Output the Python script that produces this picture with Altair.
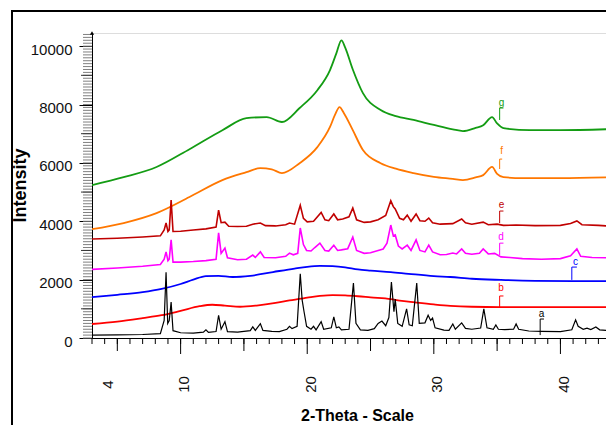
import altair as alt
import pandas as pd

W, H = 514, 305
X_DOMAIN = [3, 43.6]
Y_DOMAIN = [0, 10450]

# ---- series (2-Theta, Intensity) ----
a_t = [3.0, 5.0, 7.0, 8.4, 8.7, 8.85, 8.98, 9.1, 9.25, 9.4, 10.0, 11.0, 11.8, 12.0, 12.2, 12.8, 13.0, 13.2, 13.5, 13.7,
       14.5, 15.0, 15.5, 15.7, 15.9, 16.3, 16.5, 17.2, 17.8, 18.4, 18.6, 18.8, 19.2, 19.45, 19.6, 19.75, 19.95, 20.3,
       20.5, 20.7, 21.1, 21.3, 21.9, 22.1, 22.3, 22.5, 22.7, 23.3, 23.65, 23.85, 24.2, 24.8, 25.3, 25.6, 25.9, 26.2,
       26.45, 26.65, 26.85, 26.95, 27.15, 27.5, 27.85, 28.05, 28.3, 28.65, 28.85, 29.3, 29.55, 29.75, 29.9, 30.1, 30.8,
       31.2, 31.5, 31.7, 32.2, 32.5, 33.0, 33.7, 33.95, 34.2, 34.7, 34.9, 35.1, 35.6, 36.3, 36.5, 36.7, 37.5, 38.5,
       40.0, 40.9, 41.2, 41.4, 41.8, 42.1, 42.4, 42.8, 43.1, 44.2]
a_i = [100, 110, 120, 150, 600, 2250, 500, 600, 1230, 250, 180, 170, 200, 280, 190, 220, 780, 300, 560, 220,
       200, 230, 250, 380, 260, 490, 260, 230, 220, 300, 400, 320, 400, 2200, 1300, 900, 400, 300,
       400, 280, 560, 300, 350, 720, 350, 380, 280, 300, 1880, 500, 280, 260, 320, 500, 580, 420,
       700, 1920, 900, 1330, 500, 400, 1000, 450, 420, 1880, 500, 520, 780, 600, 680, 350, 270,
       260, 480, 300, 520, 330, 300, 340, 1000, 350, 300, 450, 300, 290, 300, 480, 300, 240, 230,
       220, 280, 620, 400, 300, 340, 290, 380, 280, 240]

b_t = [3, 5, 7, 8.5, 10, 11.5, 12.5, 13.5, 14.7, 16, 17.5, 18.6, 20, 21, 22, 23, 24, 25, 26.6, 27.3, 28.5, 30,
       31.3, 33, 35.3, 38, 41, 44.2]
b_i = [480, 560, 680, 780, 930, 1090, 1140, 1110, 1070, 1110, 1200, 1290, 1380, 1440, 1470, 1460, 1430, 1390, 1330,
       1280, 1220, 1150, 1100, 1070, 1060, 1060, 1060, 1060]

c_t = [3, 5, 7, 8.5, 10, 11, 12, 13, 14.1, 15.5, 17.3, 19, 20, 21, 22, 23, 24, 25, 26.6, 28, 30, 31.3, 33, 35.3,
       38, 41, 44.2]
c_i = [1400, 1480, 1570, 1680, 1850, 2000, 2120, 2130, 2090, 2130, 2260, 2380, 2440, 2470, 2460, 2420, 2350, 2310,
       2260, 2200, 2120, 2090, 2030, 1990, 1960, 1950, 1950]

d_t = [3, 5, 7, 8.4, 8.7, 8.85, 9.0, 9.1, 9.25, 9.4, 10.0, 11, 12.0, 12.8, 13.0, 13.2, 13.5, 13.7, 14.5, 15.2,
       15.7, 15.9, 16.3, 16.6, 17.5, 18.3, 18.6, 18.9, 19.25, 19.45, 19.7, 19.95, 20.3, 20.6, 21.0, 21.4, 21.7, 22.1,
       22.4, 22.7, 23.2, 23.6, 23.9, 24.5, 25.0, 25.6, 26.0, 26.3, 26.6, 26.8, 26.95, 27.2, 27.5, 27.9, 28.2, 28.6,
       28.9, 29.3, 29.6, 29.9, 30.5, 31.0, 31.5, 31.8, 32.2, 32.5, 33.0, 33.6, 33.9, 34.3, 34.8, 35.3, 36.0, 37,
       38.5, 40, 40.8, 41.3, 41.6, 42.5, 44.2]
d_i = [2350, 2400, 2460, 2520, 2700, 2950, 2650, 2700, 3360, 2600, 2600, 2620, 2650, 2700, 3600, 2900, 3080, 2750,
       2680, 2700, 2840, 2760, 2950, 2760, 2750, 2800, 2910, 2850, 2900, 3770, 3200, 3000, 2980, 3100, 3250, 3000,
       2980, 3180, 3000, 3020, 3060, 3460, 3000, 2900, 2920, 3000, 3050, 3250, 3870, 3500, 3530, 3150, 3050, 3180,
       3000, 3360, 3000, 2950, 3180, 2950, 2850, 2860, 2910, 2880, 3050, 2900, 2870, 2900, 3050, 2880, 2900, 2780,
       2760, 2720, 2700, 2720, 2820, 3050, 2800, 2760, 2740]

e_t = [3, 5, 7, 8.4, 8.7, 8.85, 9.0, 9.1, 9.25, 9.4, 10, 11, 12, 12.8, 13.0, 13.2, 13.5, 13.8, 14.5, 15.2, 15.7,
       16.3, 16.7, 17.5, 18.3, 18.6, 19.0, 19.45, 19.7, 20.0, 20.5, 21.1, 21.4, 21.7, 22.1, 22.4, 22.8, 23.3, 23.6,
       23.9, 24.5, 25.0, 25.6, 26.2, 26.6, 26.8, 26.95, 27.3, 27.6, 27.9, 28.2, 28.6, 28.9, 29.3, 29.6, 29.9, 30.5,
       31.5, 32.2, 32.5, 33.0, 33.9, 34.3, 35.0, 35.5, 36.5, 38, 40, 40.8, 41.3, 41.7, 43, 44.2]
e_i = [3390, 3420, 3460, 3500, 3700, 3940, 3650, 3700, 4730, 3650, 3660, 3700, 3740, 3800, 4380, 3950, 3970, 3830,
       3820, 3830, 3900, 3940, 3850, 3840, 3880, 3940, 3900, 4550, 4100, 3980, 4000, 4300, 4050, 4020, 4250, 4050,
       4080, 4150, 4450, 4050, 3960, 3980, 4050, 4200, 4700, 4500, 4420, 4100, 4050, 4210, 4000, 4250, 4020, 4000,
       4110, 3950, 3900, 3920, 4080, 3950, 3900, 3970, 3880, 3900, 3860, 3870, 3850, 3860, 3920, 4010, 3880, 3860,
       3820]

f_t = [3, 5.5, 8.1, 10.7, 13.3, 15.2, 16.3, 17.2, 18.0, 19.4, 20.8, 21.8, 22.2, 22.55, 22.9, 23.6, 24.4, 25.8, 27,
       28.4, 30, 31.5, 32.3, 33.3, 33.9, 34.6, 35.0, 35.5, 37, 40, 44.2]
f_i = [3730, 3940, 4280, 4830, 5410, 5680, 5820, 5780, 5650, 5990, 6540, 7230, 7650, 7910, 7700, 7120, 6440, 5990,
       5800, 5650, 5520, 5450, 5410, 5500, 5580, 5860, 5620, 5510, 5480, 5480, 5510]

g_t = [3, 5.5, 8.1, 10.7, 13.3, 15.2, 16.8, 18.0, 19.4, 20.8, 21.8, 22.3, 22.7, 23.0, 23.6, 24.4, 25.8, 27, 28.4,
       30, 31.5, 32.3, 33.3, 33.9, 34.6, 35.0, 35.5, 37.6, 40, 44.2]
g_i = [5240, 5510, 5860, 6470, 7120, 7530, 7570, 7400, 7880, 8490, 9180, 9750, 10200, 9950, 9200, 8390, 7810, 7600,
       7470, 7300, 7150, 7090, 7200, 7290, 7570, 7350, 7190, 7120, 7120, 7160]

names = ["a", "b", "c", "d", "e", "f", "g"]
colors = ["#000000", "#ff0000", "#0000ff", "#ff00ff", "#c00000", "#ff7700", "#139c13"]

# ---- curve labels and bracket markers ----
lab_name = ["g", "f", "e", "d", "c", "b", "a"]
lab_t = [35.35, 35.35, 35.35, 35.3, 41.2, 35.3, 38.5]
lab_i = [8050, 6400, 4550, 3460, 2600, 1710, 820]
brk_t = [35.2, 35.2, 35.2, 35.2, 40.9, 35.2, 38.4]
brk_t2 = [35.5, 35.4, 35.5, 35.5, 41.3, 35.5, 38.7]
brk_top = [7880, 6130, 4350, 3250, 2430, 1440, 650]
brk_bot = [7470, 5790, 3940, 2840, 1990, 1060, 100]

# ---- axis tick values ----
x_labels = [4, 10, 20, 30, 40]
x_minor = list(range(3, 44))
x_mid = [5, 15, 25, 35]
x_major = [10, 20, 30, 40]
y_labels = [0, 2000, 4000, 6000, 8000, 10000]
y_thousand = [1000, 3000, 5000, 7000, 9000]
y_minor = list(range(0, 10500, 100))

FONT = "Liberation Sans"

def rows_of(items):
    rows = []
    for n, ts, iv in items:
        for t, i in zip(ts, iv):
            rows.append({"s": n, "t": t, "i": i})
    return pd.DataFrame(rows)

smooth_df = rows_of([("g", g_t, g_i), ("f", f_t, f_i), ("c", c_t, c_i), ("b", b_t, b_i)])
peaky_df = rows_of([("e", e_t, e_i), ("d", d_t, d_i)])
black_df = rows_of([("a", a_t, a_i)])

xs = alt.Scale(domain=X_DOMAIN, nice=False, zero=False)
ys = alt.Scale(domain=Y_DOMAIN, nice=False, zero=False)
cs = alt.Scale(domain=names, range=colors)

x_axis = alt.Axis(values=x_labels, title="2-Theta - Scale", grid=False, ticks=True, tickSize=0,
                  labelAngle=270, labelAlign="center", labelBaseline="middle", labelPadding=46, labelOffset=3,
                  labelFontSize=15, labelFont=FONT, labelColor="#111111", labelFlush=False, labelOverlap=False,
                  domainColor="black", titleFont=FONT, titleFontSize=16, titleFontWeight="bold",
                  titleColor="black", titleX=265, titleY=82, titleBaseline="alphabetic", titleAlign="center")
y_axis = alt.Axis(values=y_labels, title="Intensity", grid=False, tickSize=13, tickColor="black",
                  labelPadding=7, labelOffset=3, labelFontSize=15, labelFont=FONT, labelColor="#111111",
                  labelFlush=False, labelOverlap=False, format="d", domainColor="black",
                  titleFont=FONT, titleFontSize=18, titleFontWeight="bold", titleColor="black",
                  titleX=-67, titleY=152, titleAngle=270, titleBaseline="alphabetic", titleAlign="center")

def X(f):
    return alt.X(f, scale=xs, axis=x_axis)

def Y(f):
    return alt.Y(f, scale=ys, axis=y_axis)

COL = alt.Color("s:N", scale=cs, legend=None)

smooth = alt.Chart(smooth_df).mark_line(clip=True, strokeWidth=1.8, interpolate="monotone").encode(
    x=X("t:Q"), y=Y("i:Q"), color=COL)
peaky = alt.Chart(peaky_df).mark_line(clip=True, strokeWidth=1.6).encode(
    x=X("t:Q"), y=Y("i:Q"), color=COL)
black = alt.Chart(black_df).mark_line(clip=True, strokeWidth=1.2).encode(
    x=X("t:Q"), y=Y("i:Q"), color=COL)

mk = pd.DataFrame({"s": lab_name, "lt": lab_t, "li": lab_i, "bt": brk_t, "bt2": brk_t2,
                   "top": brk_top, "bot": brk_bot})
vrule = alt.Chart(mk).mark_rule(strokeWidth=1).encode(x=X("bt:Q"), y=Y("top:Q"), y2="bot:Q", color=COL)
hrule = alt.Chart(mk).mark_rule(strokeWidth=1).encode(x=X("bt:Q"), x2="bt2:Q", y=Y("top:Q"), color=COL)
ltext = alt.Chart(mk).mark_text(font=FONT, fontSize=10, baseline="middle", align="center").encode(
    x=X("lt:Q"), y=Y("li:Q"), text="s:N", color=COL)

def xticks(vals, length):
    return alt.Chart(pd.DataFrame({"v": vals})).mark_rule(color="black", strokeWidth=1).encode(
        x=X("v:Q"), y=alt.value(H), y2=alt.value(H + length))

def yticks(vals, length, col):
    return alt.Chart(pd.DataFrame({"v": vals})).mark_rule(color=col, strokeWidth=1).encode(
        y=Y("v:Q"), x=alt.value(-length), x2=alt.value(0))

arrow = alt.Chart(pd.DataFrame({"t": [X_DOMAIN[0]], "i": [Y_DOMAIN[1]]})).mark_point(
    shape="triangle-up", filled=True, size=18, color="black", opacity=1).encode(x=X("t:Q"), y=Y("i:Q"))

frame = alt.Chart(pd.DataFrame({"d": [0]})).mark_rect(filled=False, stroke="black", strokeWidth=2).encode(
    x=alt.value(-80), x2=alt.value(W + 60), y=alt.value(-22), y2=alt.value(H + 160))

chart = alt.layer(
    smooth, peaky, black, vrule, hrule, ltext,
    yticks(y_minor, 9, "#808080"), yticks(y_thousand, 11, "#333333"),
    xticks(x_minor, 6), xticks(x_mid, 13), xticks(x_major, 16),
    arrow, frame,
).properties(
    width=W, height=H,
    autosize=alt.AutoSizeParams(type="none"),
    padding={"left": 84, "top": 25, "right": 0, "bottom": 87},
).configure_view(stroke=None).configure(background="white")

chart.save("out.html", embed_options={"renderer": "svg", "actions": False})
